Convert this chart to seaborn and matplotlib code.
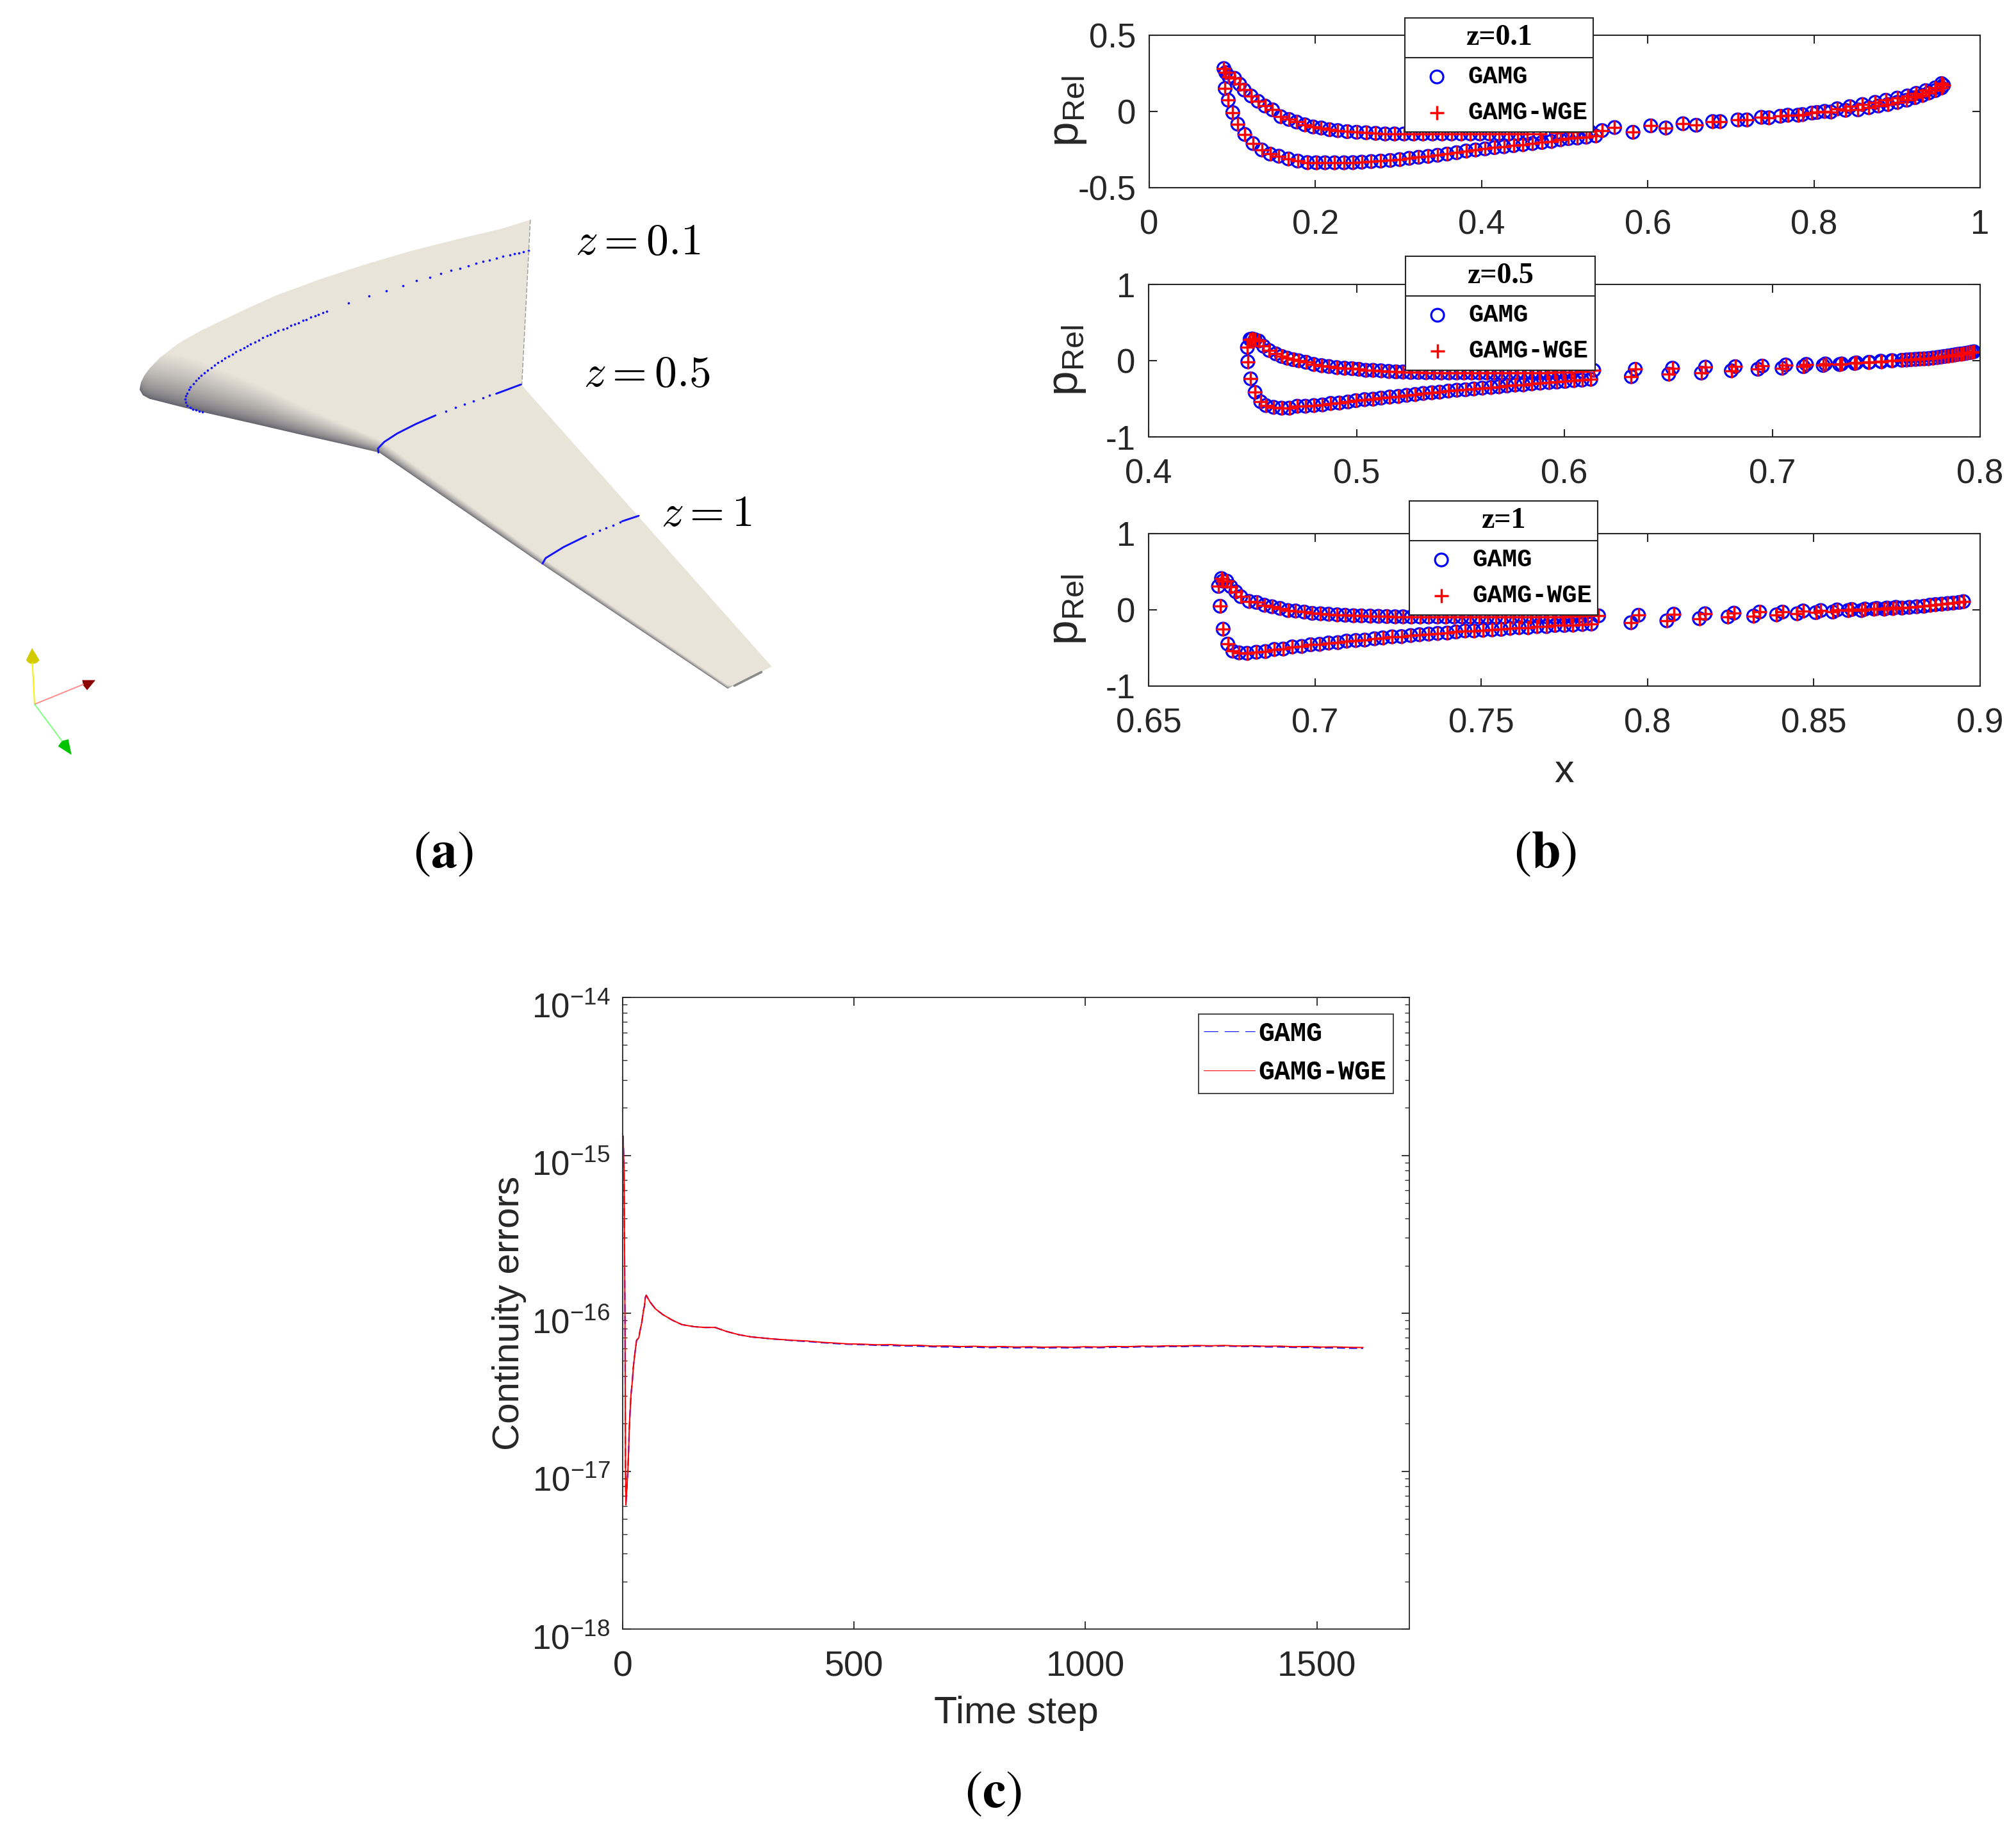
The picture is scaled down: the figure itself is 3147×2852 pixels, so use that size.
import numpy as np
import pandas as pd
import matplotlib
matplotlib.use("Agg")
import matplotlib.pyplot as plt
import seaborn as sns
from matplotlib.patches import Polygon, Rectangle
from matplotlib.lines import Line2D
from matplotlib.transforms import ScaledTranslation

# ---------- panel (b) data ----------
z01_x = [.0913,.0951,.1005,.1065,.1149,.1248,.1355,.1454,.1560,.1674,.1788,.1903,.2009,.2116,.2230,.2344,.2451,.2557,.2671,.2785,.2900,.3014,.3128,.3242,.3356,.3470,.3584,.3699,.3813,.3927,.4041,.4155,.4269,.4384,.4498,.4612,.4726,.4840,.4947,.5046,.5152,.5259,.5373,
         .5822,.6218,.6583,.6872,.7192,.7458,.7686,.7861,.8037,.8204,.8379,.8531,.8661,.8775,.8889,.9003,.9117,.9216,.9307,.9384,.9460,.9536,.9559,
         .0898,.0921,.0959,.1027,.1088,.1142,.1225,.1309,.1393,.1484,.1583,.1682,.1773,.1872,.1971,.2070,.2169,.2268,.2382,.2496,.2610,.2725,.2839,.2953,.3067,.3181,.3295,.3409,.3524,.3638,.3752,.3866,.3980,.4094,.4208,.4323,.4437,.4551,.47,.49,.51,.53,.545,
         .5601,.6035,.6423,.6781,.7085,.7367,.7595,.7808,.7976,.8128,.8280,.8432,.8584,.8737,.8866,.9003,.9125,.9231,.9346,.9460,.9536]
z01_y = [.151,.074,-.007,-.083,-.150,-.210,-.252,-.279,-.293,-.311,-.325,-.335,-.336,-.336,-.336,-.336,-.335,-.332,-.328,-.325,-.321,-.315,-.307,-.300,-.294,-.287,-.279,-.270,-.259,-.252,-.245,-.237,-.231,-.224,-.217,-.210,-.203,-.196,-.185,-.178,-.174,-.168,-.160,
         -.136,-.108,-.090,-.066,-.055,-.041,-.024,-.020,-.006,-.003,.008,.011,.025,.036,.046,.060,.074,.091,.106,.122,.137,.155,.172,
         .282,.256,.228,.218,.179,.141,.102,.067,.036,.011,-.034,-.052,-.069,-.087,-.101,-.108,-.119,-.125,-.132,-.136,-.139,-.143,-.147,-.147,-.147,-.147,-.147,-.147,-.147,-.147,-.147,-.147,-.147,-.147,-.147,-.147,-.147,-.147,-.145,-.14,-.135,-.13,-.125,
         -.105,-.094,-.080,-.066,-.055,-.038,-.031,-.024,-.010,.001,.018,.032,.046,.060,.074,.088,.102,.119,.137,.155,.183]

z05_x = [.4475,.4477,.4491,.4512,.4539,.4564,.4601,.4640,.4677,.4715,.4754,.4795,.4836,.4876,.4917,.4959,.4997,.5039,.5080,.5118,.5160,.5201,.5241,.5282,.5321,.5362,.5400,.5442,.5483,.5524,.5564,.5605,.5647,.5685,.5724,.5763,.5802,.5843,.5884,.5926,.5964,
         .6003,.6045,.6085,.6127,.6322,.6502,.6659,.6803,.6931,.7047,.7150,.7245,.7324,.7397,.7465,.7522,.7579,.7624,.7645,.7666,.7688,.7709,.7730,.7751,.7772,.7794,.7812,.7829,.7846,.7864,.7879,.7893,.7907,.7921,.7935,.7949,.7960,.7970,
         .4488,.4498,.4512,.4530,.4553,.4580,.4612,.4640,.4667,.4695,.4722,.4757,.4794,.4832,.4867,.4905,.4942,.4979,.5011,.5045,.5080,.5118,.5155,.5190,.5224,.5261,.5297,.5334,.5371,.5407,.5444,.5481,.5517,.5554,.5590,.5626,.5662,.5699,.5736,.5772,.5807,.5843,.5880,.5917,.5955,.5995,.6035,.6085,
         .6141,.6341,.6520,.6679,.6822,.6952,.7065,.7164,.7256,.7334,.7405,.7468,.7525,.7574]
z05_y = [.174,-.014,-.238,-.415,-.538,-.588,-.611,-.622,-.622,-.597,-.597,-.588,-.580,-.560,-.555,-.541,-.524,-.510,-.504,-.490,-.476,-.468,-.454,-.443,-.429,-.420,-.412,-.398,-.387,-.381,-.370,-.359,-.350,-.342,-.331,-.319,-.317,-.303,-.294,-.286,-.280,
         -.272,-.261,-.255,-.244,-.210,-.176,-.162,-.132,-.112,-.098,-.078,-.062,-.050,-.036,-.022,-.006,0,.006,.010,.014,.018,.022,.025,.028,.035,.042,.049,.056,.063,.070,.077,.084,.088,.092,.099,.106,.112,.118,
         .280,.286,.275,.258,.190,.134,.090,.056,.034,.014,0,-.020,-.048,-.064,-.076,-.090,-.098,-.104,-.112,-.126,-.126,-.132,-.140,-.146,-.148,-.154,-.154,-.157,-.157,-.160,-.160,-.160,-.160,-.160,-.160,-.160,-.160,-.160,-.160,-.160,-.160,-.160,-.160,-.160,-.155,-.152,-.148,-.140,
         -.126,-.112,-.098,-.084,-.078,-.070,-.056,-.048,-.042,-.042,-.028,-.020,-.014,0]

z1_x = [.6710,.6715,.6724,.6738,.6753,.6772,.6796,.6824,.6851,.6878,.6905,.6932,.6960,.6987,.7014,.7041,.7069,.7095,.7123,.7150,.7179,.7204,.7232,.7260,.7288,.7314,.7342,.7369,.7398,.7424,.7451,.7478,.7505,.7533,.7560,.7587,.7614,.7641,.7668,.7696,.7722,.7750,.7776,.7804,.7831,
        .7950,.8058,.8156,.8242,.8319,.8388,.8450,.8506,.8557,.8603,.8643,.8681,.8712,.8738,.8765,.8787,.8809,.8831,.8849,.8866,.8884,.8902,.8919,.8937,.8950,
        .6719,.6723,.6735,.6747,.6762,.6777,.6802,.6825,.6848,.6871,.6895,.6919,.6942,.6968,.6992,.7017,.7041,.7067,.7091,.7116,.7140,.7166,.7191,.7216,.7241,.7265,.7290,.7316,.7342,.7368,.7393,.7418,.7442,.7467,.7493,.7518,.7544,.7570,.7595,.7621,.7647,.7673,.7698,.7720,.7745,.777,.7795,.782,
        .7853,.7973,.8079,.8173,.8260,.8337,.8406,.8468,.8521,.8570,.8614,.8654,.8689,.8720,.8747]
z1_y = [.308,.048,-.252,-.448,-.541,-.563,-.569,-.555,-.546,-.518,-.513,-.485,-.479,-.457,-.451,-.434,-.429,-.409,-.401,-.395,-.378,-.367,-.353,-.350,-.336,-.325,-.317,-.308,-.303,-.289,-.275,-.275,-.266,-.261,-.255,-.241,-.232,-.232,-.218,-.218,-.204,-.204,-.199,-.190,-.185,
        -.168,-.143,-.115,-.092,-.081,-.064,-.050,-.036,-.028,-.008,-.008,.011,.011,.020,.025,.034,.042,.048,.062,.070,.076,.084,.090,.098,.109,
        .412,.378,.378,.305,.238,.174,.112,.098,.062,.042,.020,-.008,-.014,-.028,-.045,-.050,-.056,-.064,-.070,-.076,-.078,-.081,-.084,-.087,-.090,-.090,-.092,-.092,-.092,-.092,-.092,-.092,-.092,-.092,-.092,-.092,-.092,-.092,-.092,-.092,-.092,-.092,-.092,-.092,-.09,-.085,-.08,-.075,
        -.078,-.070,-.056,-.050,-.042,-.028,-.028,-.014,-.008,0,.006,.011,.020,.025,.034]

panel_titles = ["z=0.1", "z=0.5", "z=1"]
series_names = ["GAMG", "GAMG-WGE"]

# ---------- panel (c) data ----------
step_head = [1,3,3.5,5,6,7,9,11,13,14,16,18,21,23,25,28,30,35,37,41,43,45,47,49,51,59,71,87,108,128,154,177,200,223,251,278,325]
log_head = [-14.877,-15.094,-15.33,-16.018,-16.942,-17.214,-17.105,-17.014,-16.86,-16.752,-16.625,-16.516,-16.426,-16.344,-16.29,-16.217,-16.172,-16.154,-16.118,-16.063,-16.024,-15.982,-15.955,-15.9,-15.886,-15.928,-15.973,-16.009,-16.045,-16.072,-16.085,-16.09,-16.09,-16.114,-16.136,-16.15,-16.163]
step_tail = [371,400,430,460,486,520,550,580,610,640,670,700,730,760,790,820,850,880,910,940,970,1000,1030,1060,1090,1120,1150,1180,1210,1240,1270,1300,1330,1360,1390,1420,1450,1480,1510,1540,1570,1600]
log_wge_tail = [-16.172,-16.176,-16.184,-16.189,-16.194,-16.196,-16.200,-16.199,-16.204,-16.203,-16.208,-16.207,-16.211,-16.209,-16.213,-16.211,-16.214,-16.212,-16.215,-16.213,-16.215,-16.212,-16.214,-16.210,-16.212,-16.208,-16.209,-16.206,-16.207,-16.204,-16.206,-16.204,-16.207,-16.206,-16.209,-16.208,-16.212,-16.211,-16.214,-16.213,-16.216,-16.217]
log_gamg_tail = [-16.174,-16.179,-16.186,-16.192,-16.196,-16.199,-16.203,-16.204,-16.207,-16.208,-16.212,-16.213,-16.216,-16.214,-16.218,-16.216,-16.219,-16.217,-16.220,-16.218,-16.219,-16.217,-16.218,-16.215,-16.216,-16.212,-16.213,-16.210,-16.211,-16.208,-16.209,-16.207,-16.210,-16.210,-16.213,-16.213,-16.216,-16.216,-16.219,-16.219,-16.221,-16.222]

# ---------- panel (a) rendered wing, drawn in the render's own coordinates ----------
wing_x = [97,98,100,107,119,142,166,190,237,285,340,400,500,600,700,800,900,966,947,1205,1503,1405,990,630,546,451,356,237,190,142,119,104]
wing_y = [537,528,517,499,479,450,427,406,374,346,314,281,236,196,160,129,100,75,525,880,1290,1350,1010,708,684,658,631,598,584,569,562,552]
edge_x = [97,104,119,142,190,237,356,451,546,630,990,1405]
edge_y = [537,552,562,569,584,598,631,658,684,708,1010,1350]
shade_x = [97,190,237,356,451,546,630,990,1405]
shade_l = [130,140,135,110,80,55,35,18,10]
sec1_dots_x = [237,230,222,215,209,203,199,198,199,202,206,210,216,222,228,234,241,248,256,264,271,279,287,295,303,311,321,329,336,344,354,362,370,380,387,397,405,416,424,433,442,450,460,468,477,487,494,504,513,562,607,646,682,713,742,767,790,810,828,845,860,875,890,905,920,930,940,950,962]
sec1_dots_y = [597,595,593,590,585,580,572,563,554,547,537,529,520,512,505,498,492,485,478,470,464,459,452,446,440,434,428,423,418,412,407,402,396,391,386,382,377,372,369,363,359,355,349,346,340,337,332,328,324,302,283,268,254,241,231,222,213,207,201,194,188,184,179,175,171,168,165,162,159]
sec2_solid_x = [628,627,641,670,712,755]
sec2_solid_y = [708,697,679,656,630,607]
sec2_dots_x = [778,800,820,840,860,875]
sec2_dots_y = [596,585,577,568,560,553]
sec2_end_x = [890,945]
sec2_end_y = [548,523]
sec3_solid_x = [993,1000,1040,1090]
sec3_solid_y = [1010,995,965,935]
sec3_dots_x = [1105,1120,1135,1150,1165]
sec3_dots_y = [928,920,913,906,898]
sec3_end_x = [1170,1207]
sec3_end_y = [895,880]
z_labels = [r"$z=0.1$", r"$z=0.5$", r"$z=1$"]
z_label_x = [1206,1226,1358]
z_label_y = [138,496,876]

sns.set_theme(style="ticks")
plt.rcParams["font.family"] = ["Liberation Sans", "DejaVu Sans"]
plt.rcParams["mathtext.fontset"] = "custom"
plt.rcParams["mathtext.rm"] = "Liberation Sans"
plt.rcParams["mathtext.it"] = "Liberation Sans:italic"
plt.rcParams["mathtext.bf"] = "Liberation Sans:bold"
INK = "#262626"

W, H = 3147, 2852
fig = plt.figure(figsize=(W / 100, H / 100), dpi=100, facecolor="white")


def fx(px):
    return px / W


def fy(py):
    return 1 - py / H


def axes_px(l, t, r, b):
    return fig.add_axes([fx(l), fy(b), (r - l) / W, (b - t) / H])


# ---------- panel (a) ----------
sx, sy = 1.425, 1.742
ax_a = fig.add_axes([0, 0, 1, 1], zorder=-1)
ax_a.set_xlim(-150 * sx, (W - 150) * sx)
ax_a.set_ylim((H - 300) * sy, -300 * sy)
ax_a.axis("off")
gx = np.linspace(90, 1510, 1000)
gy = np.linspace(70, 1360, 900)
GX, GY = np.meshgrid(gx, gy)
depth = np.interp(GX, edge_x, edge_y) - GY
tt = np.clip(depth / np.interp(GX, shade_x, shade_l), 0, 1) ** 0.6
dark = np.array([92, 92, 102]) / 255
base = np.array([233, 228, 217]) / 255
img = dark[None, None, :] + (base - dark)[None, None, :] * tt[..., None]
im = ax_a.imshow(img, extent=(90, 1510, 1360, 70), aspect="auto", interpolation="bilinear")
wing = Polygon(np.column_stack([wing_x, wing_y]), closed=True, transform=ax_a.transData, facecolor="none", edgecolor="none")
ax_a.add_patch(wing)
im.set_clip_path(wing)
ax_a.set_xlim(-150 * sx, (W - 150) * sx)
ax_a.set_ylim((H - 300) * sy, -300 * sy)
ax_a.plot([966, 947], [75, 525], color="#9a9a9a", lw=1.0, ls=(0, (5, 2)))
ax_a.plot([1420, 1480], [1342, 1305], color="#8a8a88", lw=2.6, solid_capstyle="round")
sns.scatterplot(x=sec1_dots_x, y=sec1_dots_y, ax=ax_a, color="#1414ff", s=7, linewidth=0, legend=False)
sns.scatterplot(x=sec2_dots_x, y=sec2_dots_y, ax=ax_a, color="#1414ff", s=7, linewidth=0, legend=False)
sns.scatterplot(x=sec3_dots_x, y=sec3_dots_y, ax=ax_a, color="#1414ff", s=7, linewidth=0, legend=False)
for xs, ys in [(sec2_solid_x, sec2_solid_y), (sec2_end_x, sec2_end_y), (sec3_solid_x, sec3_solid_y), (sec3_end_x, sec3_end_y)]:
    ax_a.plot(xs, ys, color="#1414ff", lw=2.1)
for s, lx, ly in zip(z_labels, z_label_x, z_label_y):
    ax_a.text(lx, ly, s, fontsize=50, ha="center", va="center", color="black", math_fontfamily="cm")

# orientation widget
ax_w = axes_px(0, 980, 200, 1200)
ax_w.set_xlim(0, 600)
ax_w.set_ylim(660, 0)
ax_w.axis("off")
ax_w.plot([162, 152], [358, 165], color="#f4f000", lw=1.4)
ax_w.plot([162, 390], [358, 265], color="#ff8c8c", lw=1.4)
ax_w.plot([162, 290], [358, 530], color="#80ff80", lw=1.4)
ax_w.add_patch(Polygon([(150, 95), (122, 152), (135, 165), (150, 170), (172, 165), (185, 152)], fc="#d2cb00", ec="none"))
ax_w.add_patch(Polygon([(447, 245), (385, 245), (390, 270), (408, 292)], fc="#8b0000", ec="none"))
ax_w.add_patch(Polygon([(335, 595), (272, 555), (290, 530), (320, 522)], fc="#00c400", ec="none"))


# ---------- panel (b) ----------
def style_axes(ax, lw=1.5):
    for sp in ax.spines.values():
        sp.set_visible(True)
        sp.set_linewidth(lw)
        sp.set_color(INK)


def draw_box_legend(ax, title, left, right, top, sep, bottom):
    ax.add_artist(Rectangle((fx(left), fy(bottom)), (right - left) / W, (bottom - top) / H, transform=fig.transFigure,
                            fc="white", ec=INK, lw=1.5, clip_on=False, zorder=4))
    ax.add_artist(Line2D([fx(left), fx(right)], [fy(sep), fy(sep)], transform=fig.transFigure, color=INK, lw=1.5,
                         clip_on=False, zorder=4.5))
    ax.text(fx((left + right) / 2), fy((top + sep) / 2), title, transform=fig.transFigure, ha="center", va="center",
            fontsize=33, fontweight="bold", family="Liberation Serif", color="black", zorder=6, clip_on=False)
    h, l = ax.get_legend_handles_labels()
    leg = ax.legend(h, l, loc="center left", bbox_to_anchor=(fx(left + 19), fy(top + 120)), bbox_transform=fig.transFigure,
                    frameon=False, borderpad=0, borderaxespad=0, handlelength=1.6, handletextpad=0.44, labelspacing=0.5,
                    prop={"family": "Liberation Mono", "weight": "bold", "size": 28}, scatterpoints=1, labelcolor="black")
    leg.set_zorder(5)


panels_b = [
    dict(rect=(1794, 55, 3091, 293), xs=z01_x, ys=z01_y, xlim=(0, 1), xticks=[0, .2, .4, .6, .8, 1],
         xlabels=["0", "0.2", "0.4", "0.6", "0.8", "1"], ylim=(-.5, .5), yticks=[-.5, 0, .5], ylabels=["-0.5", "0", "0.5"],
         box=(2193, 2487, 28, 90, 206)),
    dict(rect=(1793, 444, 3091, 682), xs=z05_x, ys=z05_y, xlim=(.4, .8), xticks=[.4, .5, .6, .7, .8],
         xlabels=["0.4", "0.5", "0.6", "0.7", "0.8"], ylim=(-1, 1), yticks=[-1, 0, 1], ylabels=["-1", "0", "1"],
         box=(2194, 2490, 400, 462, 578)),
    dict(rect=(1793, 833, 3091, 1071), xs=z1_x, ys=z1_y, xlim=(.65, .9), xticks=[.65, .7, .75, .8, .85, .9],
         xlabels=["0.65", "0.7", "0.75", "0.8", "0.85", "0.9"], ylim=(-1, 1), yticks=[-1, 0, 1], ylabels=["-1", "0", "1"],
         box=(2200, 2494, 782, 844, 960)),
]
for p, title in zip(panels_b, panel_titles):
    ax = axes_px(*p["rect"])
    df = pd.DataFrame({"x": p["xs"], "y": p["ys"]})
    sns.scatterplot(data=df, x="x", y="y", ax=ax, marker="o", s=205, facecolor="none", edgecolor="#0000ff",
                    linewidth=2.3, label=series_names[0])
    sns.scatterplot(data=df, x="x", y="y", ax=ax, marker="+", s=235, color="#ff0000", linewidth=2.5,
                    label=series_names[1])
    ax.set_xlim(*p["xlim"])
    ax.set_ylim(*p["ylim"])
    ax.set_xticks(p["xticks"], p["xlabels"])
    ax.set_yticks(p["yticks"], p["ylabels"])
    ax.tick_params(axis="x", direction="in", top=True, bottom=True, length=9, width=1.5, color=INK, labelsize=38, pad=24, labelcolor=INK)
    ax.tick_params(axis="y", direction="in", left=True, right=True, length=9, width=1.5, color=INK, labelsize=38, pad=15, labelcolor=INK)
    style_axes(ax)
    ax.set_xlabel("")
    ax.set_ylabel(r"$\mathrm{p_{Rel}}$", fontsize=50, color=INK)
    ax.yaxis.set_label_coords(-0.098, 0.5)
    ax.yaxis.label.set_va("center")
    draw_box_legend(ax, title, *p["box"])
    last = ax
last.set_xlabel("x", fontsize=44, color=INK)
last.xaxis.set_label_coords((2442 - 1793) / (3091 - 1793), (1071 - 1206) / (1071 - 833))
last.xaxis.label.set_va("center")

# ---------- panel (c) ----------
ax_c = axes_px(972, 1557, 2200, 2543)
steps = step_head + step_tail
err_gamg = 10.0 ** np.array(log_head + log_gamg_tail)
err_wge = 10.0 ** np.array(log_head + log_wge_tail)
sns.lineplot(x=steps, y=err_gamg, ax=ax_c, color="#0000ff", lw=1.5, ls=(0, (6, 3)), estimator=None, sort=False, label=series_names[0])
sns.lineplot(x=steps, y=err_wge, ax=ax_c, color="#ff0000", lw=1.4, estimator=None, sort=False, label=series_names[1])
ax_c.set_yscale("log")
ax_c.set_xlim(0, 1700)
ax_c.set_ylim(1e-18, 1e-14)
ax_c.set_xticks([0, 500, 1000, 1500])
ax_c.set_yticks([1e-18, 1e-17, 1e-16, 1e-15, 1e-14])
ax_c.yaxis.set_minor_locator(matplotlib.ticker.LogLocator(base=10, subs=np.arange(2, 10), numticks=12))
ax_c.yaxis.set_minor_formatter(matplotlib.ticker.NullFormatter())
ax_c.tick_params(axis="x", direction="in", top=True, bottom=True, length=9, width=1.3, color=INK, labelsize=40, pad=24, labelcolor=INK)
ax_c.tick_params(axis="y", which="major", direction="in", left=True, right=True, length=9, width=1.3, color=INK, labelsize=38, pad=14, labelcolor=INK)
ax_c.tick_params(axis="y", which="minor", direction="in", left=True, right=True, length=5, width=1.0, color=INK)
style_axes(ax_c, 1.3)
for lbl in ax_c.get_yticklabels():
    lbl.set_transform(lbl.get_transform() + ScaledTranslation(0, -8.5 / 72, fig.dpi_scale_trans))
ax_c.set_xlabel("Time step", fontsize=42.5, color=INK)
ax_c.set_ylabel("Continuity errors", fontsize=42, color=INK)
ax_c.xaxis.set_label_coords((1586 - 972) / 1228, (2543 - 2675) / 986)
ax_c.xaxis.label.set_va("center")
ax_c.yaxis.set_label_coords((795 - 972) / 1228, (2543 - 2050) / 986)
ax_c.yaxis.label.set_va("center")
ax_c.add_artist(Rectangle((fx(1871), fy(1707)), 304 / W, 124 / H, transform=fig.transFigure, fc="white", ec=INK, lw=1.2, clip_on=False, zorder=4))
h, l = ax_c.get_legend_handles_labels()
leg = ax_c.legend(h, l, loc="center left", bbox_to_anchor=(fx(1879), fy(1644)), bbox_transform=fig.transFigure, frameon=False,
                  borderpad=0, borderaxespad=0, handlelength=1.93, handletextpad=0.12, labelspacing=0.5,
                  prop={"family": "Liberation Mono", "weight": "bold", "size": 30}, labelcolor="black")
leg.set_zorder(5)
for line in leg.get_lines():
    line.set_linewidth(0.8)
leg.get_lines()[0].set_linestyle((0, (20, 9)))

# ---------- panel captions ----------
for lab, cx, cy in [(r"$(\mathbf{a})$", 692, 1333), (r"$(\mathbf{b})$", 2412, 1333), (r"$(\mathbf{c})$", 1551, 2800)]:
    fig.text(fx(cx), fy(cy), lab, fontsize=59, ha="center", va="center", color="black", math_fontfamily="stix")

fig.savefig("out.png", dpi=100, facecolor="white")
